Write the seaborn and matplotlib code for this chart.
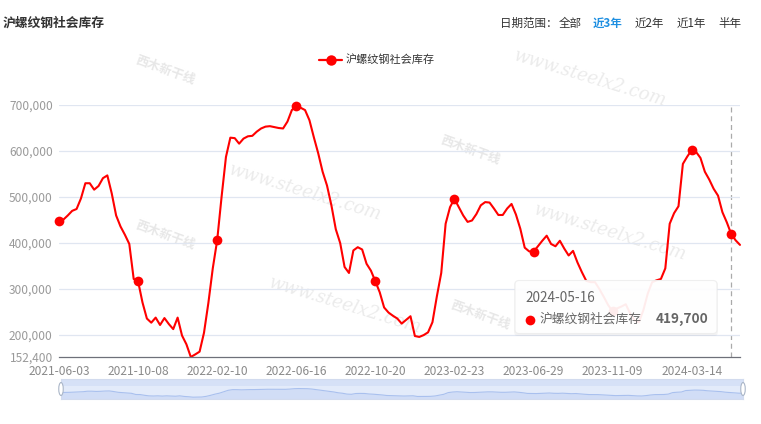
import numpy as np
import matplotlib
matplotlib.use("Agg")
import matplotlib.pyplot as plt
import seaborn as sns
from matplotlib.patches import FancyBboxPatch, Ellipse, Rectangle
from matplotlib.lines import Line2D

# 沪螺纹钢社会库存, weekly, in thousand tonnes
stock_k = [448, 451, 460, 470, 474, 497, 530, 530, 516, 524,
           541, 547, 508, 460, 436, 418, 398, 322, 317, 271,
           236, 227, 238, 222, 237, 224, 213, 238, 199, 180,
           152.4, 158, 164, 205, 270, 345, 406, 500, 587, 629,
           628, 616, 627, 632, 633, 642, 649, 653, 654, 652,
           650, 649, 664, 689, 698, 694, 689, 667, 630, 595,
           555, 525, 482, 430, 400, 348, 335, 384, 391, 386,
           355, 340, 317, 293, 260, 249, 242, 236, 225, 233,
           241, 198, 196, 200, 206, 228, 284, 335, 442, 478,
           496, 478, 460, 446, 449, 463, 482, 489, 488, 475,
           461, 461, 475, 485, 462, 431, 390, 382, 381, 393,
           405, 416, 398, 393, 405, 388, 373, 383, 358, 337,
           318, 315, 315, 300, 283, 265, 252, 258, 262, 267,
           247, 232, 228, 254, 290, 315, 319, 322, 345, 442,
           465, 480, 572, 588, 602, 598, 585, 555, 538, 518,
           503, 467, 445, 419.7, 406, 396]
stock = np.array(stock_k) * 1000
idx = np.arange(len(stock))

tick_labels = ["2021-06-03", "2021-10-08", "2022-02-10", "2022-06-16", "2022-10-20",
               "2023-02-23", "2023-06-29", "2023-11-09", "2024-03-14"]
tick_step = 18
hover_idx = 153
hover_date = "2024-05-16"
series_name = "沪螺纹钢社会库存"
y_ticks = [152400, 200000, 300000, 400000, 500000, 600000, 700000]
range_buttons = ["全部", "近3年", "近2年", "近1年", "半年"]

sns.set_style("white")
plt.rcParams["font.family"] = ["Noto Sans CJK SC", "DejaVu Sans"]

W, H = 761, 424
fig = plt.figure(figsize=(W / 100, H / 100), dpi=100)

def px_axes(x0, y0, x1, y1, **kw):
    return fig.add_axes([x0 / W, 1 - y1 / H, (x1 - x0) / W, (y1 - y0) / H], **kw)

# underlay for watermarks
ul = fig.add_axes([0, 0, 1, 1], zorder=0)
ul.set_xlim(0, W); ul.set_ylim(H, 0); ul.axis("off")
for (x, y) in [(590, 78), (305, 192), (345, 305), (610, 232)]:
    ul.text(x, y, "www.steelx2.com", rotation=-17, ha="center", va="center",
            fontsize=13, style="italic", family="DejaVu Serif", color="#d4d4d4", alpha=0.45)
for (x, y) in [(165, 70), (165, 235), (470, 150), (480, 315)]:
    ul.text(x, y, "西木新干线", rotation=-20, ha="center", va="center",
            fontsize=9, color="#d0d0d0", alpha=0.5, fontweight="bold")

# main chart
ax = px_axes(59, 105, 740, 357, zorder=1)
ax.patch.set_alpha(0)
marks = list(range(0, len(stock), tick_step)) + [hover_idx]
sns.lineplot(x=idx, y=stock, ax=ax, color="#ff0000", lw=1.5, marker="o",
             markevery=marks, markersize=7, markeredgewidth=0, legend=False)
ax.lines[0].set_clip_on(False)
ax.axvline(hover_idx, color="#aaaaaa", lw=0.9, ls=(0, (4, 3)), zorder=0)

ax.set_xlim(0, len(stock) - 1)
ax.set_ylim(y_ticks[0], y_ticks[-1])
ax.set_yticks(y_ticks)
ax.set_yticklabels([f"{v:,}" for v in y_ticks])
ax.set_xticks(range(0, tick_step * len(tick_labels), tick_step))
ax.set_xticklabels(tick_labels)
ax.tick_params(axis="y", length=0, pad=4.5, labelsize=8.6, labelcolor="#9a9a9a")
ax.tick_params(axis="x", length=4, width=0.8, color="#6e7079", pad=2,
               labelsize=8.6, labelcolor="#8a8a8a", direction="out")
ax.set_xlabel(""); ax.set_ylabel("")
for y in y_ticks[1:]:
    ax.axhline(y, color="#e0e6f1", lw=0.9, zorder=0)
for s in ["top", "right", "left"]:
    ax.spines[s].set_visible(False)
ax.spines["bottom"].set_color("#6e7079")
ax.spines["bottom"].set_linewidth(0.9)

# data zoom slider
sl = px_axes(61, 379, 743, 399, zorder=1)
lo, hi = stock.min(), stock.max()
sc = (hi - lo) / 9.5
sl.set_ylim(lo - 2 * sc, hi + 10.5 * sc)
sl.set_xlim(0, len(stock) - 1)
sl.set_facecolor("#e3ebfa")
sl.fill_between(idx, lo - 2 * sc, stock, color="#c6d5f4", alpha=0.6, lw=0)
sns.lineplot(x=idx, y=stock, ax=sl, color="#a9c0ee", lw=0.8, legend=False)
sl.add_patch(Rectangle((0, 0.65), 1, 0.35, transform=sl.transAxes,
                       color="#d6e1f7", lw=0))
sl.set_xticks([]); sl.set_yticks([])
sl.set_xlabel(""); sl.set_ylabel("")
for s in sl.spines.values():
    s.set_color("#d2dbee"); s.set_linewidth(0.8)

# overlay: title, buttons, legend, tooltip, handles
ov = fig.add_axes([0, 0, 1, 1], zorder=5)
ov.set_xlim(0, W); ov.set_ylim(H, 0); ov.axis("off")

ov.text(3, 23, series_name, fontsize=9.2, fontweight="bold", color="#333333",
        ha="left", va="center")
ov.text(500, 23, "日期范围：", fontsize=8.3, color="#333333", ha="left", va="center")
for bx, lab in zip([559, 593, 635, 677, 718], range_buttons):
    active = lab == "近3年"
    ov.text(bx, 23, lab, fontsize=8.3, ha="left", va="center",
            color="#1e8fe1" if active else "#333333",
            fontweight="bold" if active else "normal")

ov.add_line(Line2D([319, 342], [60, 60], color="#ff0000", lw=1.6))
ov.plot([330.5], [60], "o", color="#ff0000", markersize=7.5, markeredgewidth=0)
ov.text(346, 60, series_name, fontsize=8, color="#333333", ha="left", va="center")

ov.add_patch(FancyBboxPatch((514, 281), 204, 55,
                            boxstyle="round,pad=0,rounding_size=4",
                            fc="#888888", ec="none", alpha=0.08))
ov.add_patch(FancyBboxPatch((515, 280.5), 202, 53,
                            boxstyle="round,pad=0,rounding_size=4",
                            fc="white", ec="#eeeeee", lw=0.8, alpha=0.93))
ov.text(525, 298, hover_date, fontsize=9.8, color="#666666", ha="left", va="center")
ov.plot([529.5], [319.5], "o", color="#ff0000", markersize=7, markeredgewidth=0)
ov.text(539, 319.5, series_name, fontsize=9.2, color="#666666", ha="left", va="center")
ov.text(708, 319.5, f"{stock[hover_idx]:,.0f}", fontsize=9.8, fontweight="bold",
        color="#666666", ha="right", va="center")

for hx in [61, 743]:
    ov.add_patch(Ellipse((hx, 389), 4.5, 13, fc="white", ec="#aab6c8", lw=0.8))

fig.savefig("out.png", dpi=100)
